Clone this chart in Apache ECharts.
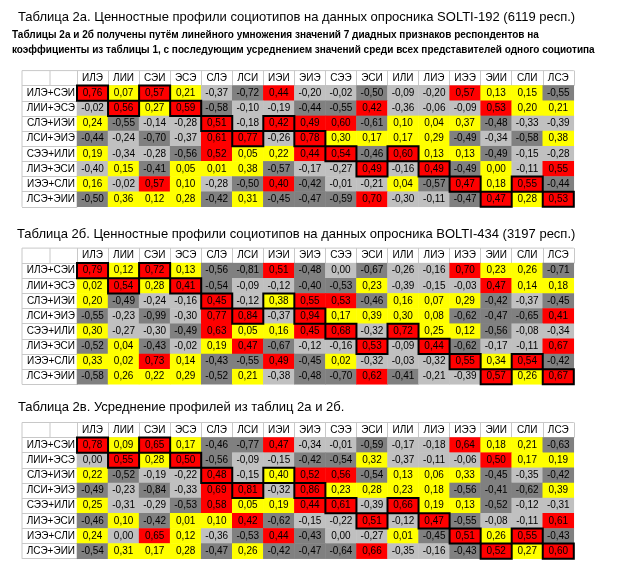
<!DOCTYPE html>
<html>
<head>
<meta charset="utf-8">
<script src="https://cdn.jsdelivr.net/npm/echarts@6/dist/echarts.min.js"></script>
<style>
  html, body { margin: 0; padding: 0; background: #fff; }
  #chart { width: 619px; height: 573px; }
</style>
</head>
<body>
<div id="chart"></div>
<script>
// заголовки
const title1 = 'Таблица 2а. Ценностные профили социотипов на данных опросника SOLTI-192 (6119 респ.)'
const note1 = 'Таблицы 2а и 2б получены путём линейного умножения значений 7 диадных признаков респондентов на'
const note2 = 'коэффициенты из таблицы 1, с последующим усреднением значений среди всех представителей одного социотипа'
const title2 = 'Таблица 2б. Ценностные профили социотипов на данных опросника BOLTI-434 (3197 респ.)'
const title3 = 'Таблица 2в. Усреднение профилей из таблиц 2а и 2б.'

const cols = ['ИЛЭ','ЛИИ','СЭИ','ЭСЭ','СЛЭ','ЛСИ','ИЭИ','ЭИЭ','СЭЭ','ЭСИ','ИЛИ','ЛИЭ','ИЭЭ','ЭИИ','СЛИ','ЛСЭ']
const rows = ['ИЛЭ+СЭИ','ЛИИ+ЭСЭ','СЛЭ+ИЭИ','ЛСИ+ЭИЭ','СЭЭ+ИЛИ','ЛИЭ+ЭСИ','ИЭЭ+СЛИ','ЛСЭ+ЭИИ']

// значения (третий знак оценён по цвету ячейки, где округление неоднозначно)
const solti = [
    [0.76,0.07,0.57,0.21,-0.37,-0.72,0.44,-0.20,-0.02,-0.50,-0.09,-0.20,0.57,0.13,0.15,-0.55],
    [-0.02,0.56,0.27,0.59,-0.58,-0.10,-0.19,-0.44,-0.55,0.42,-0.36,-0.06,-0.09,0.53,0.20,0.21],
    [0.24,-0.55,-0.14,-0.28,0.51,-0.18,0.42,0.49,0.60,-0.61,0.10,0.04,0.37,-0.48,-0.33,-0.39],
    [-0.44,-0.24,-0.70,-0.37,0.61,0.77,-0.26,0.78,0.30,0.17,0.17,0.29,-0.49,-0.34,-0.58,0.38],
    [0.19,-0.34,-0.28,-0.56,0.52,0.05,0.22,0.44,0.54,-0.46,0.60,0.13,0.13,-0.49,-0.15,-0.28],
    [-0.40,0.15,-0.41,0.05,0.01,0.38,-0.57,-0.17,-0.27,0.49,-0.16,0.49,-0.49,0.00,-0.11,0.55],
    [0.16,-0.02,0.57,0.10,-0.28,-0.50,0.40,-0.42,-0.01,-0.21,0.04,-0.57,0.47,0.18,0.55,-0.44],
    [-0.50,0.36,0.12,0.28,-0.42,0.31,-0.45,-0.47,-0.59,0.70,-0.30,-0.11,-0.47,0.47,0.28,0.53]
]
const bolti = [
    [0.79,0.12,0.72,0.13,-0.56,-0.81,0.51,-0.48,-0.004,-0.67,-0.26,-0.16,0.70,0.23,0.26,-0.71],
    [0.02,0.54,0.28,0.41,-0.54,-0.09,-0.12,-0.403,-0.53,0.23,-0.39,-0.15,-0.03,0.47,0.14,0.18],
    [0.20,-0.49,-0.24,-0.16,0.45,-0.12,0.38,0.55,0.53,-0.46,0.16,0.07,0.29,-0.42,-0.37,-0.45],
    [-0.55,-0.23,-0.99,-0.30,0.77,0.84,-0.37,0.94,0.17,0.39,0.30,0.08,-0.62,-0.47,-0.65,0.41],
    [0.30,-0.27,-0.30,-0.49,0.63,0.05,0.16,0.45,0.68,-0.32,0.72,0.25,0.12,-0.56,-0.08,-0.34],
    [-0.52,0.04,-0.43,-0.02,0.19,0.47,-0.67,-0.12,-0.16,0.53,-0.09,0.44,-0.62,-0.17,-0.11,0.67],
    [0.33,0.02,0.73,0.14,-0.43,-0.55,0.49,-0.45,0.02,-0.32,-0.03,-0.32,0.55,0.34,0.54,-0.42],
    [-0.58,0.26,0.22,0.29,-0.52,0.21,-0.38,-0.48,-0.70,0.62,-0.41,-0.21,-0.39,0.57,0.26,0.67]
]
const mean = [
    [0.78,0.09,0.65,0.17,-0.46,-0.77,0.47,-0.34,-0.01,-0.59,-0.17,-0.18,0.64,0.18,0.21,-0.63],
    [-0.004,0.55,0.28,0.50,-0.56,-0.09,-0.15,-0.42,-0.54,0.32,-0.37,-0.11,-0.06,0.50,0.17,0.19],
    [0.22,-0.52,-0.19,-0.22,0.48,-0.15,0.398,0.52,0.56,-0.54,0.13,0.06,0.33,-0.45,-0.35,-0.42],
    [-0.49,-0.23,-0.84,-0.33,0.69,0.81,-0.32,0.86,0.23,0.28,0.23,0.18,-0.56,-0.41,-0.62,0.39],
    [0.25,-0.31,-0.29,-0.53,0.58,0.05,0.19,0.44,0.61,-0.39,0.66,0.19,0.13,-0.52,-0.12,-0.31],
    [-0.46,0.10,-0.42,0.01,0.10,0.42,-0.62,-0.15,-0.22,0.51,-0.12,0.47,-0.55,-0.08,-0.11,0.61],
    [0.24,-0.004,0.65,0.12,-0.36,-0.53,0.44,-0.43,-0.004,-0.27,0.01,-0.45,0.51,0.26,0.55,-0.43],
    [-0.54,0.31,0.17,0.28,-0.47,0.26,-0.42,-0.47,-0.64,0.66,-0.35,-0.16,-0.43,0.52,0.27,0.60]
]

const FONT = "'Liberation Sans', Arial, sans-serif"
const GRID_COLOR = '#c8c8c8'
const CELL_W = 31.05
const ROW_H = 15.15
const HEAD_H = 15
const LEFT = 77
const LINE_X = [22, 50]
const tableTops = [85.6, 263.1, 437.5]
const tables = [solti, bolti, mean]

function fmt(v){
    return (Math.round(v*100)/100).toFixed(2).replace('.', ',')
}

// ячейки с жирной рамкой — собственные типы диады
function ownCells(){
    let res = []
    for(let r=0;r<rows.length;r++){
        rows[r].split('+').forEach(t => res.push([cols.indexOf(t), r]))
    }
    return res
}

let grids = [], xAxes = [], yAxes = [], series = [], graphics = []
for(let t=0;t<tables.length;t++){
    const top = tableTops[t]
    grids.push({left: LEFT, top: top, width: CELL_W*cols.length, height: ROW_H*rows.length})
    xAxes.push({
        type: 'category', gridIndex: t, position: 'top', data: cols,
        axisLine: {show: true, lineStyle: {color: GRID_COLOR, width: 1}},
        axisTick: {show: true, interval: 0, length: HEAD_H, lineStyle: {color: GRID_COLOR}},
        axisLabel: {interval: 0, margin: HEAD_H/2, verticalAlign: 'middle', fontSize: 10, color: '#000', fontFamily: FONT},
        splitLine: {show: false}
    })
    yAxes.push({
        type: 'category', gridIndex: t, inverse: true, data: rows,
        axisLine: {show: true, lineStyle: {color: GRID_COLOR, width: 1}},
        axisTick: {show: true, interval: 0, length: LEFT - LINE_X[0], lineStyle: {color: GRID_COLOR}},
        axisLabel: {interval: 0, margin: 2, fontSize: 10, color: '#000', fontFamily: FONT},
        splitLine: {show: false}
    })
    let data = []
    for(let r=0;r<rows.length;r++)
        for(let c=0;c<cols.length;c++)
            data.push([c, r, tables[t][r][c]])
    series.push({
        type: 'heatmap', xAxisIndex: t, yAxisIndex: t, data: data,
        label: {show: true, fontSize: 10, color: '#000', fontFamily: FONT, formatter: p => fmt(p.value[2])},
        emphasis: {disabled: true},
        animation: false
    })
    series.push({
        type: 'custom', xAxisIndex: t, yAxisIndex: t, data: ownCells(), z: 5,
        renderItem: (params, api) => {
            const p = api.coord([api.value(0), api.value(1)])
            const s = api.size([1, 1])
            return {
                type: 'rect',
                shape: {x: p[0]-s[0]/2, y: p[1]-s[1]/2, width: s[0], height: s[1]},
                style: {fill: null, stroke: '#000', lineWidth: 2}
            }
        },
        silent: true,
        animation: false
    })
    // линии сетки Excel в шапке и колонке подписей
    const y0 = top - HEAD_H, y1 = top + ROW_H*rows.length
    graphics.push({type: 'line', shape: {x1: LINE_X[0], y1: y0, x2: LEFT + CELL_W*cols.length, y2: y0}, style: {stroke: GRID_COLOR, lineWidth: 1}})
    graphics.push({type: 'line', shape: {x1: LINE_X[0], y1: y0, x2: LINE_X[0], y2: y1}, style: {stroke: GRID_COLOR, lineWidth: 1}})
    graphics.push({type: 'line', shape: {x1: LINE_X[1], y1: y0, x2: LINE_X[1], y2: top}, style: {stroke: GRID_COLOR, lineWidth: 1}})
}

let option = {
    backgroundColor: '#fff',
    animation: false,
    title: [
        {text: title1, left: 18, top: 11, padding: 0, textStyle: {fontSize: 13, fontWeight: 'normal', color: '#000', fontFamily: FONT}},
        {text: note1, left: 12, top: 30, padding: 0, textStyle: {fontSize: 10, fontWeight: 'bold', color: '#000', fontFamily: FONT}},
        {text: note2, left: 12, top: 45.5, padding: 0, textStyle: {fontSize: 10, fontWeight: 'bold', color: '#000', fontFamily: FONT}},
        {text: title2, left: 17, top: 227.5, padding: 0, textStyle: {fontSize: 13, fontWeight: 'normal', color: '#000', fontFamily: FONT}},
        {text: title3, left: 18, top: 400.5, padding: 0, textStyle: {fontSize: 13, fontWeight: 'normal', color: '#000', fontFamily: FONT}}
    ],
    grid: grids,
    xAxis: xAxes,
    yAxis: yAxes,
    visualMap: {
        type: 'piecewise', show: false, dimension: 2, seriesIndex: [0, 2, 4],
        pieces: [
            {lt: -0.4, color: '#808080'},
            {gte: -0.4, lt: 0, color: '#c0c0c0'},
            {gte: 0, lt: 0.4, color: '#ffff00'},
            {gte: 0.4, color: '#ff0000'}
        ]
    },
    graphic: graphics,
    series: series
}

let chartDom = echarts.init(document.querySelector('#chart'))
chartDom.setOption(option)
</script>
</body>
</html>
